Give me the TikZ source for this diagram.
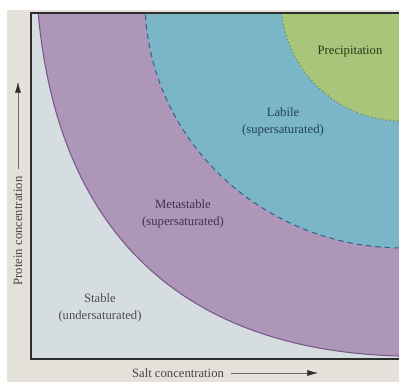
\documentclass[tikz,border=0pt]{standalone}
\usepackage{fontspec}
\setmainfont{Liberation Serif}
\usetikzlibrary{arrows.meta}
\definecolor{paper}{RGB}{228,224,218}
\definecolor{stablegray}{RGB}{214,221,225}
\definecolor{metapurple}{RGB}{174,150,184}
\definecolor{labileblue}{RGB}{122,182,199}
\definecolor{precipgreen}{RGB}{168,197,122}
\definecolor{metaline}{RGB}{120,88,136}
\definecolor{labileline}{RGB}{55,100,140}
\definecolor{precipline}{RGB}{100,140,60}
\definecolor{axisdark}{RGB}{45,45,45}
\definecolor{axisgray}{RGB}{70,70,70}

\begin{document}
\begin{tikzpicture}[
    x=0.75pt, y=-0.75pt,
    region/.style={font=\fontsize{9.5}{12.5}\selectfont, align=center, text=#1},
    axislabel/.style={font=\fontsize{9.5}{11}\selectfont, text=axisgray},
    axisarrow/.style={-{Latex[length=8pt,width=4.5pt,color=axisdark]}, thin, axisgray!80, shorten <=2pt}
]
\useasboundingbox (0,0) rectangle (399,382);
\fill[paper] (7,10) rectangle (399,382);

% regions
\begin{scope}
\clip (31,13) rectangle (399,359);
\fill[stablegray] (31,13) rectangle (399,359);
\fill[metapurple] (37.5,5) .. controls (55,230) and (180,350) .. (399,356) -- (399,5) -- cycle;
\fill[labileblue] (403,0) ellipse [x radius=258, y radius=248];
\draw[labileline, thick, dash pattern=on 4pt off 3pt] (403,0) ellipse [x radius=258, y radius=248];
\fill[precipgreen] (402,0) circle [radius=121];
\draw[precipline, dotted, thick] (402,0) circle [radius=121];
\draw[metaline, thick] (37.5,5) .. controls (55,230) and (180,350) .. (399,356);
\end{scope}

% axes
\draw[axisdark, line width=1.6pt] (399,13) -- (31,13) -- (31,359) -- (399,359);

\node[region={precipline!40!black}] (precip) at (350,52) {Precipitation};
\node[region={labileline!65!black}] (labile) at (283,122) {Labile\\(supersaturated)};
\node[region={metaline!55!black}] (meta) at (183,214) {Metastable\\(supersaturated)};
\node[region={black!70}] (stable) at (100,308) {Stable\\(undersaturated)};

\node[axislabel] (salt) at (178,373) {Salt concentration};
\coordinate (saltend) at (318,373);
\draw[axisarrow] (salt.east) -- (saltend);

\node[axislabel, rotate=90] (protein) at (18,231) {Protein concentration};
\coordinate (proteinend) at (18,82);
\draw[axisarrow] (protein.east) -- (proteinend);
\end{tikzpicture}
\end{document}
